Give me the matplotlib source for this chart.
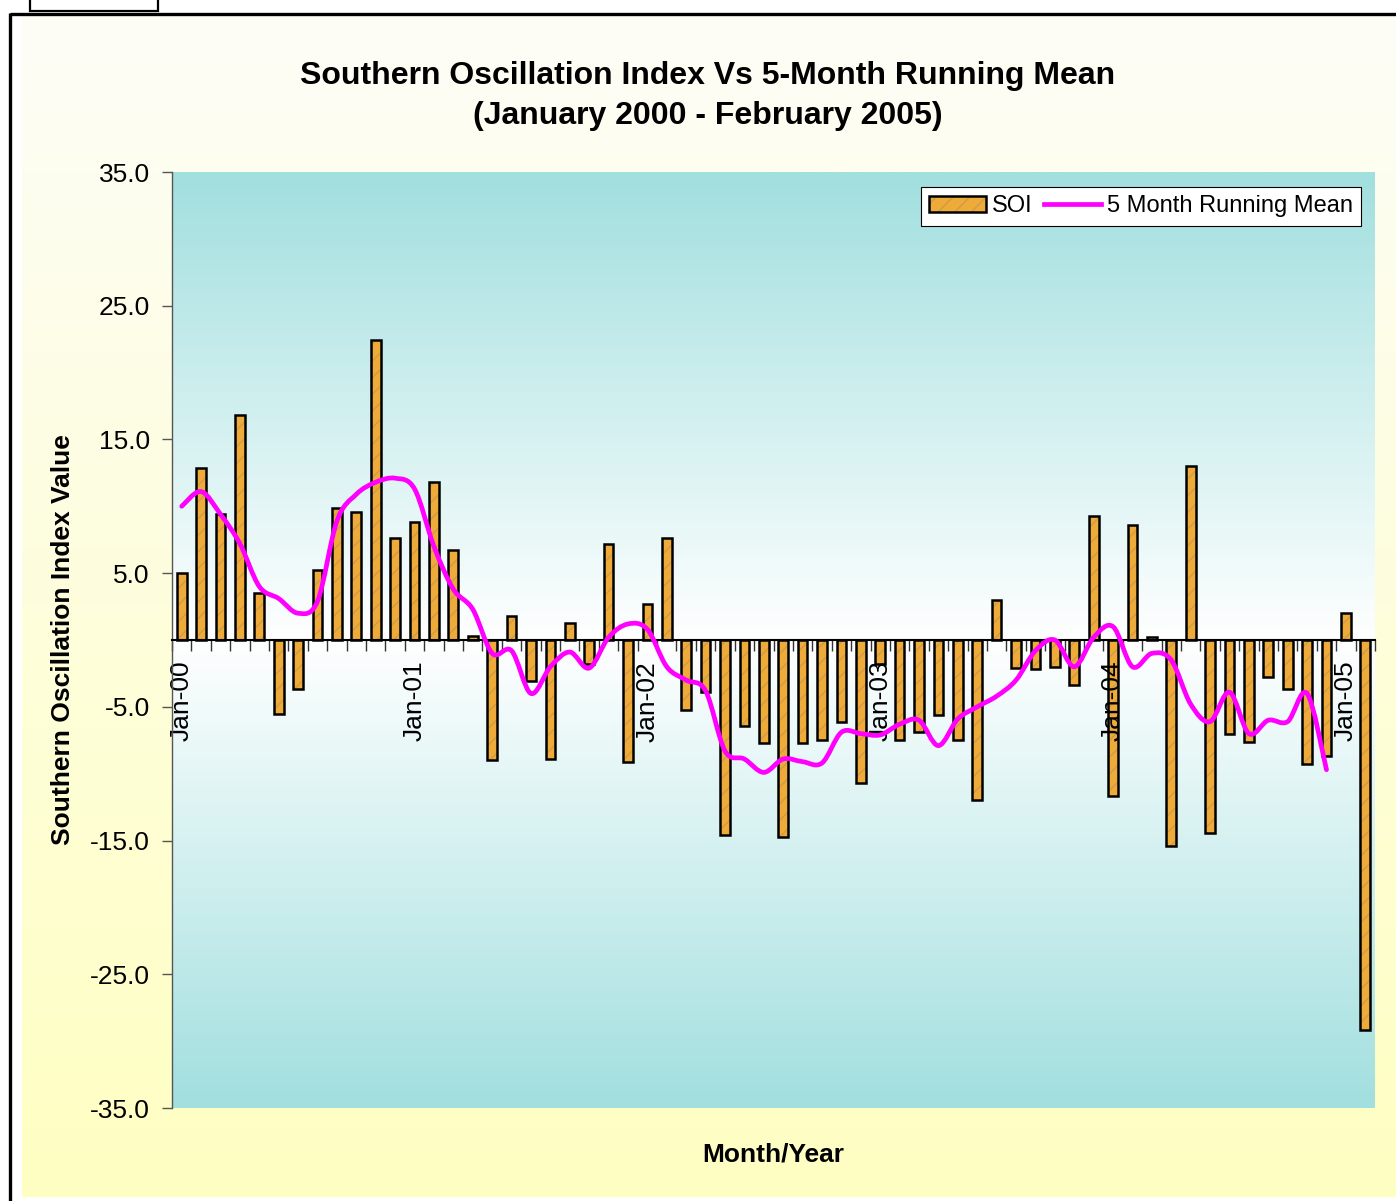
import numpy as np
import matplotlib
matplotlib.use('Agg')
import matplotlib.pyplot as plt
from matplotlib.patches import Rectangle, Patch, PathPatch
from matplotlib.path import Path
from matplotlib.lines import Line2D
from matplotlib.legend_handler import HandlerTuple
from matplotlib.colors import to_rgb

plt.rcParams['font.family'] = ['Liberation Sans', 'DejaVu Sans']

# monthly categories, Jan 2000 - Feb 2005
month_names = ['Jan', 'Feb', 'Mar', 'Apr', 'May', 'Jun',
               'Jul', 'Aug', 'Sep', 'Oct', 'Nov', 'Dec']
years = [0, 1, 2, 3, 4, 5]
months = [f'{m}-{y:02d}' for y in years for m in month_names][:62]

# SOI values
soi = [5.0, 12.9, 9.4, 16.8, 3.5, -5.5, -3.7, 5.2, 9.9, 9.6, 22.4, 7.6,
       8.8, 11.8, 6.7, 0.3, -9.0, 1.8, -3.1, -8.9, 1.3, -1.8, 7.2, -9.1,
       2.7, 7.6, -5.2, -3.9, -14.6, -6.4, -7.7, -14.7, -7.7, -7.5, -6.1, -10.7,
       -1.8, -7.5, -6.9, -5.6, -7.5, -12.0, 3.0, -2.1, -2.2, -2.0, -3.4, 9.3,
       -11.7, 8.6, 0.2, -15.4, 13.0, -14.4, -7.0, -7.6, -2.8, -3.7, -9.3, -8.7,
       2.0, -29.2]

# 5 month running mean (ends Dec-04)
running_mean = [10.0, 11.1, 9.4, 7.2, 4.0, 3.1, 2.0, 2.9, 8.9, 10.9, 11.8, 12.1,
                11.3, 7.0, 3.8, 2.3, -1.0, -0.8, -4.0, -2.0, -0.9, -2.1, 0.2, 1.2,
                0.8, -2.0, -3.0, -3.8, -8.3, -8.9, -9.9, -8.9, -9.1, -9.2, -6.9, -7.0,
                -7.1, -6.3, -6.0, -7.9, -5.9, -5.0, -4.2, -3.0, -0.8, 0.0, -2.0, 0.2,
                1.0, -2.0, -1.0, -1.5, -4.8, -6.1, -3.9, -7.0, -6.0, -6.1, -4.0, -9.7]

label_every = 12
yticks = [-35, -25, -15, -5, 5, 15, 25, 35]

W, H = 1396, 1201
fig = plt.figure(figsize=(W / 100, H / 100), dpi=100)
fig.patch.set_facecolor('white')

# chart area background + frame, in pixel coords
bg = fig.add_axes([0, 0, 1, 1], zorder=-10)
bg.set_xlim(0, W)
bg.set_ylim(H, 0)
bg.axis('off')
t = np.linspace(0, 1, 256)[:, None]
grad = np.array(to_rgb('#FDFDF7')) * (1 - t) + np.array(to_rgb('#FFFFC2')) * t
bg.imshow(grad[:, None, :], extent=[22, W, 1197, 15], aspect='auto', interpolation='bilinear')
bg.plot([10, 10], [13, H + 5], color='black', lw=2.4, solid_capstyle='butt')
bg.plot([10, W + 5], [13.5, 13.5], color='black', lw=2.4, solid_capstyle='butt')
bg.add_patch(Rectangle((30, -5), 128, 16, fill=False, lw=1.6, edgecolor='black'))
bg.set_xlim(0, W)
bg.set_ylim(H, 0)

ax = fig.add_axes([172 / W, 1 - 1108 / H, 1203 / W, 936 / H])
n = len(soi)
x = np.arange(n)

# plot area gradient: teal at the edges, white in the middle
s = np.abs(np.linspace(-1, 1, 256))[:, None]
grad2 = np.array([1.0, 1.0, 1.0]) * (1 - s) + np.array(to_rgb('#A2DFDF')) * s
ax.imshow(grad2[:, None, :], extent=[-0.5, n - 0.5, -35, 35], aspect='auto',
          interpolation='bilinear', zorder=0)

bar_face = '#EEAB3A'
hatch_col = '#CF9C45'
ax.bar(x, soi, width=0.5, color=bar_face, edgecolor=hatch_col, hatch='//', linewidth=0, zorder=1)
ax.bar(x, soi, width=0.5, fill=False, edgecolor='black', linewidth=1.8, zorder=1.1)

# smoothed line through the running mean points (catmull-rom style beziers)
pts = np.column_stack([x[:len(running_mean)], running_mean]).astype(float)
verts = [pts[0]]
codes = [Path.MOVETO]
for i in range(len(pts) - 1):
    p0 = pts[max(i - 1, 0)]
    p1 = pts[i]
    p2 = pts[i + 1]
    p3 = pts[min(i + 2, len(pts) - 1)]
    verts += [p1 + (p2 - p0) / 6.0, p2 - (p3 - p1) / 6.0, p2]
    codes += [Path.CURVE4] * 3
ax.add_patch(PathPatch(Path(verts, codes), fill=False, edgecolor='#FF00FF', lw=3.4,
                       capstyle='round', joinstyle='round', zorder=3))

ax.set_xlim(-0.5, n - 0.5)
ax.set_ylim(-35, 35)

for side in ['top', 'right']:
    ax.spines[side].set_visible(False)
ax.spines['bottom'].set_position(('data', 0))
ax.spines['bottom'].set_color('black')
ax.spines['bottom'].set_linewidth(1.5)
ax.spines['left'].set_color('#555555')
ax.spines['left'].set_linewidth(1.0)

major = list(range(0, n, label_every))
ax.set_xticks(major)
ax.set_xticklabels([months[i] for i in major])
ax.set_xticks(np.arange(-0.5, n, 1), minor=True)
ax.tick_params(axis='x', which='major', length=0, pad=15, labelsize=19, labelrotation=90)
ax.tick_params(axis='x', which='minor', length=8, width=1, color='#333333', direction='out')

ax.set_yticks(yticks)
ax.set_yticklabels([f'{v:.1f}' for v in yticks])
ax.tick_params(axis='y', length=7, width=1, color='#555555', pad=9, labelsize=19)

h_bar = (Patch(facecolor=bar_face, edgecolor=hatch_col, hatch='//', linewidth=0),
         Patch(fill=False, edgecolor='black', linewidth=1.8))
h_line = Line2D([], [], color='#FF00FF', lw=3.4)
leg = ax.legend([h_bar, h_line], ['SOI', '5 Month Running Mean'],
                handler_map={tuple: HandlerTuple(ndivide=1, pad=0)},
                ncol=2, loc='upper right', bbox_to_anchor=(1361 / W, 1 - 187 / H),
                bbox_transform=fig.transFigure, borderaxespad=0, fontsize=17,
                frameon=True, fancybox=False, edgecolor='black', framealpha=1,
                handlelength=2.4, handletextpad=0.25, columnspacing=0.5,
                borderpad=0.35, handleheight=0.65)
leg.get_frame().set_linewidth(0.8)
leg.set_zorder(5)

fig.text(708 / W, 1 - 76 / H, 'Southern Oscillation Index Vs 5-Month Running Mean',
         ha='center', va='center', fontsize=23, fontweight='bold')
fig.text(708 / W, 1 - 116 / H, '(January 2000 - February 2005)',
         ha='center', va='center', fontsize=23, fontweight='bold')
fig.text(63 / W, 1 - 640 / H, 'Southern Oscillation Index Value', rotation=90,
         ha='center', va='center', fontsize=19, fontweight='bold')
fig.text(773 / W, 1 - 1154 / H, 'Month/Year', ha='center', va='center',
         fontsize=19, fontweight='bold')

fig.savefig('out.png', dpi=100)
